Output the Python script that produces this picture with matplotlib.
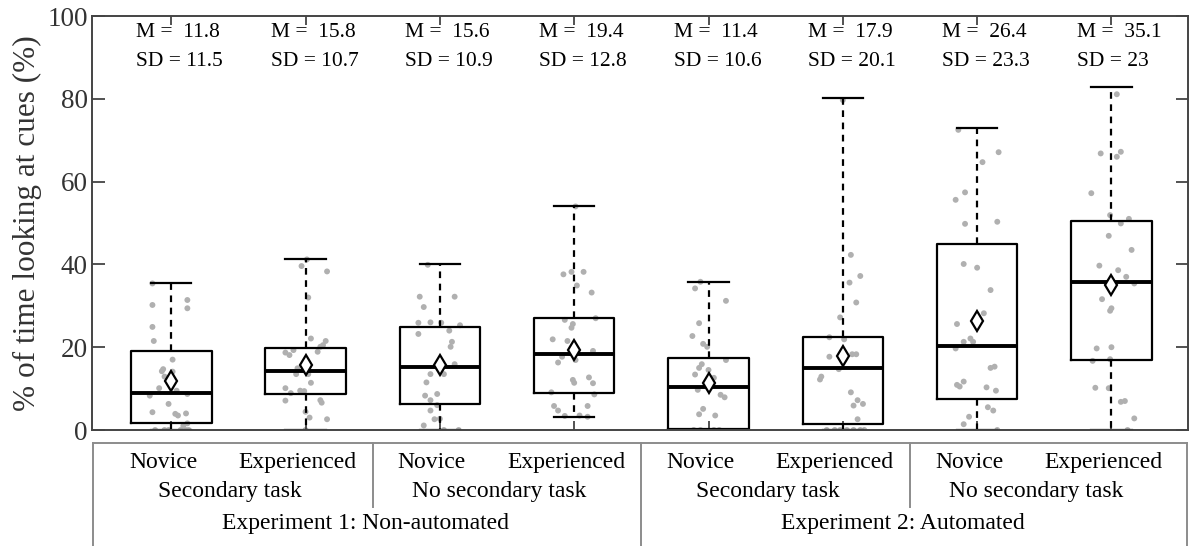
import numpy as np
import matplotlib
matplotlib.use("Agg")
import matplotlib.pyplot as plt

plt.rcParams['font.family'] = ['Liberation Serif', 'DejaVu Serif']

# box statistics
q1 = [1.7, 8.7, 6.3, 9.0, 0.2, 1.4, 7.5, 16.9]
med = [9.0, 14.3, 15.3, 18.4, 10.5, 14.9, 20.4, 35.7]
q3 = [19.2, 19.8, 24.9, 27.0, 17.3, 22.4, 44.9, 50.5]
whislo = [0, 0, 0, 3.1, 0, 0, 0, 0]
whishi = [35.5, 41.3, 40.0, 54.0, 35.8, 80.2, 72.9, 82.9]
means = [11.8, 15.8, 15.6, 19.4, 11.4, 17.9, 26.4, 35.1]
m_labels = ["11.8", "15.8", "15.6", "19.4", "11.4", "17.9", "26.4", "35.1"]
sd_labels = ["11.5", "10.7", "10.9", "12.8", "10.6", "20.1", "23.3", "23"]

groups = ["Novice", "Experienced"] * 4
tasks = ["Secondary task", "No secondary task"] * 2
experiments = ["Experiment 1: Non-automated", "Experiment 2: Automated"]

# individual participants (value, horizontal jitter)
pts_val = [
    [35.4, 30.2, 31.4, 29.4, 24.9, 21.5, 17.0, 14.2, 14.7, 14.1, 12.9, 10.1, 9.5, 8.3,
     8.7, 6.3, 4.3, 3.9, 3.5, 4.0, 1.6, 1.0, 0, 0, 0, 0, 0, 0],
    [41.2, 39.6, 38.3, 32.0, 22.1, 21.5, 20.5, 20.1, 18.9, 18.7, 18.1, 19.3, 16.1, 14.9,
     13.5, 13.5, 11.4, 10.1, 8.9, 9.5, 9.4, 7.2, 6.6, 7.1, 4.4, 3.0, 2.6, 0],
    [39.9, 32.2, 32.2, 29.7, 25.9, 26.0, 25.9, 25.3, 24.0, 23.2, 21.3, 20.1, 15.9, 14.5,
     13.5, 13.5, 11.5, 8.3, 8.7, 7.2, 6.0, 4.7, 2.6, 2.7, 1.1, 0, 0],
    [54.0, 37.6, 38.2, 38.2, 34.9, 33.2, 26.6, 27.0, 25.6, 24.7, 21.9, 21.5, 19.1, 17.7,
     16.9, 16.3, 12.1, 11.4, 12.7, 11.3, 9.1, 8.6, 5.8, 4.7, 5.8, 3.4, 3.5, 3.2],
    [35.8, 34.2, 31.2, 25.8, 22.7, 20.8, 20.1, 16.9, 15.9, 15.0, 14.5, 13.4, 12.6, 9.7,
     8.5, 7.9, 5.1, 3.8, 3.5, 0, 0, 0, 0],
    [79.7, 42.3, 37.2, 35.6, 30.8, 27.2, 22.4, 21.9, 17.7, 18.3, 18.3, 14.7, 12.9, 12.2,
     9.1, 7.2, 6.3, 5.9, 2.6, 0, 0, 0, 0, 0, 0, 0],
    [72.5, 67.1, 64.7, 57.4, 55.6, 49.8, 50.3, 40.1, 39.2, 33.8, 28.2, 25.6, 21.3, 22.1,
     21.3, 19.7, 15.0, 15.3, 10.9, 10.5, 11.7, 10.3, 9.5, 5.5, 4.7, 3.2, 1.4, 0],
    [81.1, 66.8, 66.0, 67.2, 57.2, 51.9, 49.9, 51.0, 46.9, 43.5, 39.7, 38.6, 37.0, 35.6,
     35.4, 31.6, 29.4, 28.8, 19.7, 20.0, 16.7, 17.1, 10.2, 10.1, 6.8, 7.0, 2.8, 0],
]
pts_dx = [
    [-0.14, -0.14, 0.12, 0.12, -0.14, -0.13, 0.01, -0.07, -0.06, 0.01, -0.05, -0.09, 0.04, -0.16,
     0.12, -0.02, -0.14, 0.03, 0.05, 0.11, 0.12, 0.09, -0.12, -0.05, -0.02, 0.07, 0.11, 0.13],
    [0.01, -0.03, 0.16, 0.02, 0.04, 0.15, 0.13, 0.11, 0.09, -0.15, -0.12, -0.09, 0.0, -0.06,
     0.02, -0.07, 0.04, -0.15, -0.11, -0.04, -0.01, 0.11, 0.12, -0.15, 0.0, 0.03, 0.16, 0.0],
    [-0.09, -0.15, 0.11, -0.12, -0.16, -0.07, 0.01, 0.15, 0.07, -0.16, 0.09, 0.08, 0.11, 0.0,
     -0.07, 0.03, -0.10, -0.11, -0.02, -0.07, -0.02, -0.07, -0.04, 0.0, -0.12, 0.03, 0.14],
    [0.01, -0.08, -0.02, 0.07, 0.02, 0.13, -0.07, 0.16, -0.01, -0.02, -0.16, -0.05, 0.14, -0.09,
     0.01, -0.12, -0.01, 0.0, 0.11, 0.14, -0.17, 0.15, -0.15, -0.12, 0.10, -0.07, 0.04, 0.10],
    [-0.06, -0.10, 0.13, -0.07, -0.12, -0.04, -0.01, 0.13, -0.05, -0.07, 0.0, -0.10, 0.04, -0.08,
     0.09, 0.12, -0.04, -0.07, 0.05, -0.11, -0.06, 0.04, 0.08],
    [0.0, 0.06, 0.13, 0.05, 0.10, -0.02, -0.10, 0.01, -0.10, 0.07, 0.10, -0.03, -0.16, -0.17,
     0.06, 0.11, 0.15, 0.08, 0.11, -0.12, -0.06, -0.02, 0.03, 0.08, 0.13, 0.16],
    [-0.14, 0.16, 0.04, -0.09, -0.16, -0.09, 0.15, -0.10, 0.0, 0.10, 0.05, -0.15, -0.10, -0.05,
     -0.03, -0.16, 0.10, 0.13, -0.15, -0.13, -0.10, 0.07, 0.14, 0.08, 0.12, -0.06, -0.10, 0.15],
    [0.04, -0.08, 0.04, 0.07, -0.15, -0.01, 0.07, 0.13, -0.02, 0.15, -0.09, 0.05, 0.11, -0.01,
     0.17, -0.07, 0.0, -0.01, -0.11, 0.0, -0.14, -0.01, -0.12, -0.02, 0.07, 0.10, 0.17, 0.12],
]

pos = np.arange(1, 9)
fig = plt.figure(figsize=(11.96, 5.46), dpi=100)
ax = fig.add_axes([92 / 1196, 116 / 546, 1096 / 1196, 414 / 546])

# jittered points
for i in range(8):
    ax.scatter(pos[i] + np.array(pts_dx[i]), pts_val[i], s=18, color='#b0b0b0',
               edgecolors='none', zorder=1)

stats = []
for i in range(8):
    stats.append(dict(med=med[i], q1=q1[i], q3=q3[i], whislo=whislo[i], whishi=whishi[i]))
ax.bxp(stats, positions=pos, widths=0.6, showfliers=False, manage_ticks=False,
       boxprops=dict(color='black', lw=1.6),
       medianprops=dict(color='black', lw=2.8),
       whiskerprops=dict(color='black', lw=1.6, linestyle=(0, (3, 2.5))),
       capprops=dict(color='black', lw=1.6), capwidths=0.3, zorder=2)

ax.plot(pos, means, linestyle='none', marker='d', markersize=10.5, markerfacecolor='white',
        markeredgecolor='black', markeredgewidth=1.6, zorder=3)

for i in range(8):
    ax.text(pos[i] - 0.26, 95.9, "M =  " + m_labels[i], fontsize=15.5, va='center', ha='left')
    ax.text(pos[i] - 0.26, 88.9, "SD = " + sd_labels[i], fontsize=15.5, va='center', ha='left')

ax.set_xlim(0.41, 8.57)
ax.set_ylim(0, 100)
ax.set_yticks([0, 20, 40, 60, 80, 100])
ax.set_xticks(pos)
ax.set_xticklabels([])
ax.tick_params(axis='y', direction='in', length=9, width=1.3, labelsize=19.5, pad=3,
               right=True, color='#444444')
ax.tick_params(axis='x', direction='in', length=6.5, width=1.3, top=True, color='#444444')
for s in ax.spines.values():
    s.set_color('#444444')
    s.set_linewidth(1.4)
ax.set_ylabel("% of time looking at cues (%)", fontsize=22.5, color='#333333', labelpad=4)
ax.tick_params(labelcolor='#333333')

# label table under the plot
tab = fig.add_axes([92 / 1196, 0, 1096 / 1196, 116 / 546])
tab.set_xlim(ax.get_xlim())
tab.set_ylim(0, 1)
tab.axis('off')
lc = '#8c8c8c'
top = 0.888
tab.plot([0.42, 8.56], [top, top], color=lc, lw=1.4)
tab.plot([0.42, 0.42], [0, top], color=lc, lw=1.4)
tab.plot([8.56, 8.56], [0, top], color=lc, lw=1.4)
tab.plot([4.5, 4.5], [0, top], color=lc, lw=1.4)
tab.plot([2.5, 2.5], [0.336, top], color=lc, lw=1.4)
tab.plot([6.5, 6.5], [0.336, top], color=lc, lw=1.4)

for i in range(8):
    tab.text(pos[i] - 0.06, 0.724, groups[i], fontsize=17, ha='center', va='center')
for j in range(4):
    tab.text(1.5 + 2 * j - 0.06, 0.466, tasks[j], fontsize=17, ha='center', va='center')
for k in range(2):
    tab.text(2.5 + 4 * k - 0.05, 0.198, experiments[k], fontsize=17, ha='center', va='center')

fig.savefig("out.png", dpi=100)
